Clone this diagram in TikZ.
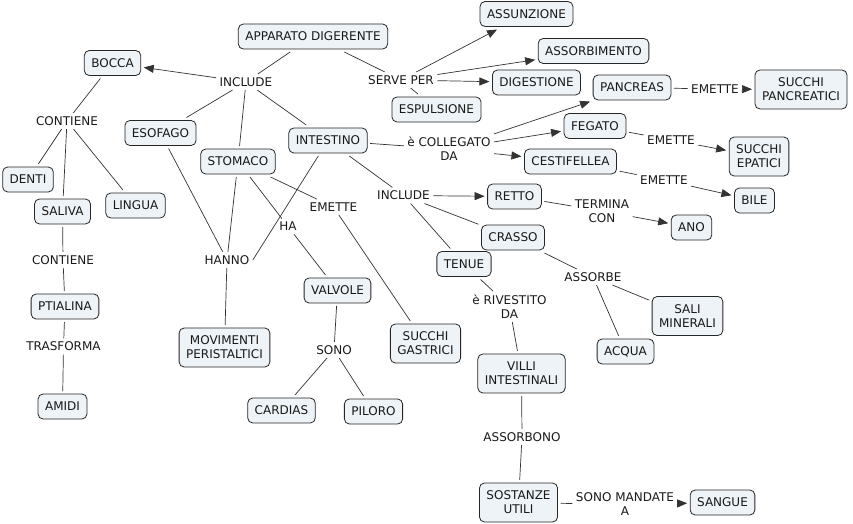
\documentclass[tikz,border=0pt]{standalone}
\usepackage{fontspec}
\setmainfont{DejaVu Sans}
\usetikzlibrary{arrows.meta}
\definecolor{boxfill}{RGB}{237,243,246}
\tikzset{
  concept/.style={draw=black!85, line width=0.8pt, fill=boxfill, rounded corners=5pt,
    inner xsep=7pt, inner ysep=2pt, minimum height=25pt, outer sep=3pt, align=center,
    font=\fontsize{12}{14}\selectfont, text=black!90},
  tall/.style={minimum height=39pt},
  phrase/.style={inner sep=1.5pt, outer sep=2pt, align=center,
    font=\fontsize{12}{14}\selectfont, text=black!90},
  conn/.style={draw=black!80, line width=0.7pt},
  arr/.style={conn, -{Triangle[length=10pt,width=8pt]}}
}
\begin{document}
\begin{tikzpicture}[x=1pt, y=-1pt]
      \useasboundingbox (0, 0) rectangle (853, 524);

      \node [concept] (app) at (313, 36.5) {APPARATO DIGERENTE};
      \node [concept] (bocca) at (112.5, 63) {BOCCA};
      \node [concept] (esofago) at (160.5, 133) {ESOFAGO};
      \node [concept] (stomaco) at (238, 161.5) {STOMACO};
      \node [concept] (intestino) at (328, 140.5) {INTESTINO};
      \node [concept] (denti) at (28, 179.5) {DENTI};
      \node [concept] (saliva) at (62.5, 211.5) {SALIVA};
      \node [concept] (lingua) at (135.5, 205.5) {LINGUA};
      \node [concept] (ptialina) at (65, 306.5) {PTIALINA};
      \node [concept] (amidi) at (62.5, 406.5) {AMIDI};
      \node [concept, tall] (movimenti) at (224.5, 347.5) {MOVIMENTI\\PERISTALTICI};
      \node [concept] (valvole) at (337.5, 290.5) {VALVOLE};
      \node [concept] (cardias) at (281.5, 410.5) {CARDIAS};
      \node [concept] (piloro) at (373.5, 411.5) {PILORO};
      \node [concept, tall] (gastrici) at (425.5, 343.5) {SUCCHI\\GASTRICI};
      \node [concept] (espulsione) at (436.5, 109.5) {ESPULSIONE};
      \node [concept] (assunzione) at (526.5, 14) {ASSUNZIONE};
      \node [concept] (assorbimento) at (593.5, 51) {ASSORBIMENTO};
      \node [concept] (digestione) at (536.5, 82.5) {DIGESTIONE};
      \node [concept] (pancreas) at (632, 87.5) {PANCREAS};
      \node [concept, tall] (pancreatici) at (801, 89.5) {SUCCHI\\PANCREATICI};
      \node [concept] (fegato) at (595, 126) {FEGATO};
      \node [concept, tall] (epatici) at (759, 156.5) {SUCCHI\\EPATICI};
      \node [concept] (cestifellea) at (570.5, 161.5) {CESTIFELLEA};
      \node [concept] (bile) at (754.5, 200.5) {BILE};
      \node [concept] (retto) at (514.5, 196.5) {RETTO};
      \node [concept] (ano) at (691.5, 227.5) {ANO};
      \node [concept] (crasso) at (513, 237.5) {CRASSO};
      \node [concept] (tenue) at (464, 264) {TENUE};
      \node [concept, tall] (sali) at (687.5, 316) {SALI\\MINERALI};
      \node [concept] (acqua) at (625.5, 351.5) {ACQUA};
      \node [concept, tall] (villi) at (521.5, 373.5) {VILLI\\INTESTINALI};
      \node [concept, tall] (sostanze) at (518.5, 502.5) {SOSTANZE\\UTILI};
      \node [concept] (sangue) at (722.5, 502.5) {SANGUE};

      \node [phrase] (includeA) at (246, 82) {INCLUDE};
      \node [phrase] (serve) at (401, 80) {SERVE PER};
      \node [phrase] (contieneA) at (67, 121) {CONTIENE};
      \node [phrase] (contieneB) at (63, 260) {CONTIENE};
      \node [phrase] (trasforma) at (63.5, 346.5) {TRASFORMA};
      \node [phrase] (hanno) at (227, 260) {HANNO};
      \node [phrase] (ha) at (288, 226.5) {HA};
      \node [phrase] (emetteS) at (333.5, 207) {EMETTE};
      \node [phrase] (sono) at (334, 350) {SONO};
      \node [phrase] (collegato) at (449, 149) {è COLLEGATO\\DA};
      \node [phrase] (includeB) at (403.5, 195.5) {INCLUDE};
      \node [phrase] (emetteP) at (715, 89) {EMETTE};
      \node [phrase] (emetteF) at (671, 140) {EMETTE};
      \node [phrase] (emetteC) at (664, 180) {EMETTE};
      \node [phrase] (termina) at (602, 211) {TERMINA\\CON};
      \node [phrase] (assorbe) at (593, 277) {ASSORBE};
      \node [phrase] (rivestito) at (509.5, 306.5) {è RIVESTITO\\DA};
      \node [phrase] (assorbono) at (522, 437) {ASSORBONO};
      \node [phrase] (mandate) at (625, 504.5) {SONO MANDATE\\A};

      \draw [conn] (app) -- (includeA);
      \draw [arr] (includeA) -- (bocca);
      \draw [conn] (includeA) -- (esofago);
      \draw [conn] (includeA) -- (stomaco);
      \draw [conn] (includeA) -- (intestino);

      \draw [conn] (app) -- (serve);
      \draw [arr] (serve) -- (assunzione);
      \draw [arr] (serve) -- (assorbimento);
      \draw [arr] (serve) -- (digestione);
      \draw [conn] (serve) -- (espulsione);

      \draw [conn] (bocca) -- (contieneA);
      \draw [conn] (contieneA) -- (denti);
      \draw [conn] (contieneA) -- (saliva);
      \draw [conn] (contieneA) -- (lingua);
      \draw [conn] (saliva) -- (contieneB);
      \draw [conn] (contieneB) -- (ptialina);
      \draw [conn] (ptialina) -- (trasforma);
      \draw [conn] (trasforma) -- (amidi);

      \draw [conn] (esofago) -- (hanno);
      \draw [conn] (stomaco) -- (hanno);
      \draw [conn] (intestino) -- (hanno.east);
      \draw [conn] (hanno) -- (movimenti);

      \draw [conn] (stomaco) -- (ha);
      \draw [conn] (ha) -- (valvole);
      \draw [conn] (valvole) -- (sono);
      \draw [conn] (sono) -- (cardias);
      \draw [conn] (sono) -- (piloro);
      \draw [conn] (stomaco) -- (emetteS);
      \draw [conn] (emetteS) -- (gastrici);

      \draw [conn] (intestino) -- (collegato);
      \draw [arr] (collegato) -- (pancreas);
      \draw [arr] (collegato) -- (fegato);
      \draw [arr] (collegato) -- (cestifellea);
      \draw [conn] (pancreas) -- (emetteP);
      \draw [arr] (emetteP) -- (pancreatici);
      \draw [conn] (fegato) -- (emetteF);
      \draw [arr] (emetteF) -- (epatici);
      \draw [conn] (cestifellea) -- (emetteC);
      \draw [arr] (emetteC) -- (bile);

      \draw [conn] (intestino) -- (includeB);
      \draw [arr] (includeB) -- (retto);
      \draw [conn] (includeB) -- (crasso);
      \draw [conn] (includeB) -- (tenue);
      \draw [conn] (retto) -- (termina);
      \draw [arr] (termina) -- (ano);
      \draw [conn] (crasso) -- (assorbe);
      \draw [conn] (assorbe) -- (acqua);
      \draw [conn] (assorbe) -- (sali);
      \draw [conn] (tenue) -- (rivestito);
      \draw [conn] (rivestito) -- (villi);
      \draw [conn] (villi) -- (assorbono);
      \draw [conn] (assorbono) -- (sostanze);
      \draw [conn] (sostanze) -- (mandate);
      \draw [arr] (mandate) -- (sangue);
    \end{tikzpicture}
\end{document}
